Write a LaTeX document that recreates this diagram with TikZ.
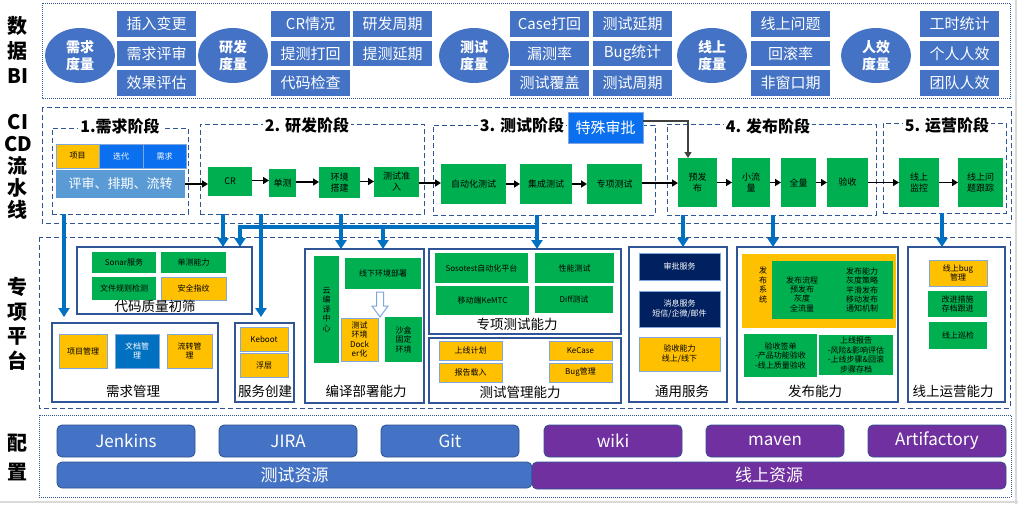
\documentclass[tikz,border=0pt]{standalone}
\usepackage{fontspec}
\setmainfont{Noto Sans CJK SC}
\usetikzlibrary{shapes.geometric,arrows.meta,calc}
\definecolor{biblue}{HTML}{4472C4}
\definecolor{cdash}{HTML}{2F5597}
\definecolor{cbright}{HTML}{0A70F0}
\definecolor{crev}{HTML}{5B9BD5}
\definecolor{cgreen}{HTML}{00B050}
\definecolor{cyellow}{HTML}{FFC000}
\definecolor{cablue}{HTML}{0070C0}
\definecolor{cnavy}{HTML}{002060}
\definecolor{cpanel}{HTML}{2F5597}
\definecolor{cltb}{HTML}{7FA7DC}
\definecolor{cpurple}{HTML}{7030A0}
\definecolor{cfgedge}{HTML}{2F528F}
\newcommand\fsz[2]{\fontsize{#1}{#2}\selectfont}
\newcommand\mybox[7][]{%
 \pgfmathsetmacro\mbw{#5-#3}%
 \pgfmathsetmacro\mbh{#6-#4}%
 \pgfmathsetmacro\mbx{(#3+#5)/2}%
 \pgfmathsetmacro\mby{(#4+#6)/2}%
 \node[box,#1,minimum width=\mbw pt,minimum height=\mbh pt] (#2) at (\mbx,\mby) {#7};}
\begin{document}
\begin{tikzpicture}[x=1pt,y=-1pt,
 box/.style={rectangle,inner sep=0.5pt,outer sep=0pt,align=center},
 bibox/.style={fill=biblue,text=white,font=\fsz{15}{16}},
 biell/.style={ellipse,fill=biblue,text=white,minimum width=70pt,minimum height=55pt,inner sep=0pt,align=center,font=\bfseries\fsz{14}{17}},
 side/.style={align=center,inner sep=0pt},
 dotline/.style={draw=cdash,line width=0.8pt,dash pattern=on 1pt off 1pt},
 dashline/.style={draw=cdash,line width=1pt,dash pattern=on 5pt off 3pt},
 stage/.style={draw=cdash,line width=1pt,dash pattern=on 5pt off 3pt},
 ttl/.style={fill=white,font=\bfseries\fsz{16}{18},inner sep=2pt},
 gbox/.style={fill=cgreen,text=black,font=\fsz{9}{11}},
 pbox/.style={fill=cgreen,text=black,font=\fsz{8}{9.5}},
 ybox/.style={fill=cyellow,draw=cltb,line width=0.8pt,text=black,font=\fsz{8}{9.5}},
 bbox/.style={fill=cbright,draw=cltb,line width=0.8pt,text=white,font=\fsz{8}{9.5}},
 nbox/.style={fill=cnavy,draw=cltb,line width=0.8pt,text=white,font=\fsz{8}{9.5}},
 panel/.style={draw=cpanel,line width=1.2pt},
 plbl/.style={font=\fsz{13.5}{15},inner sep=0pt},
 karrow/.style={draw=black,line width=1.8pt,-{Triangle[width=7pt,length=6pt]}},
 barrow/.style={draw=cablue,line width=4pt,-{Triangle[width=11pt,length=9pt]}},
 cfb/.style={fill=biblue,draw=cfgedge,line width=0.8pt,rounded corners=5pt,text=white,font=\fsz{17}{18}},
 cfp/.style={fill=cpurple,draw=cfgedge,line width=0.8pt,rounded corners=5pt,text=white,font=\fsz{17}{18}}
]
\useasboundingbox (0,0) rectangle (1018,504);
\fill[white] (0,0) rectangle (1018,504);
\draw[gray!30,line width=2pt] (0,502) -- (1018,502);
\draw[gray!30,line width=1.5pt] (1016,0) -- (1016,504);

% ---------- side labels
\node[side,font=\bfseries\fsz{20}{25}] (lbi) at (18,50) {数\\据\\BI};
\node[side,font=\bfseries\fsz{20}{22}] (lci) at (18,167) {CI\\CD\\流\\水\\线};
\node[side,font=\bfseries\fsz{20}{24.5}] (lpt) at (18,324) {专\\项\\平\\台};
\node[side,font=\bfseries\fsz{20}{29}] (lcf) at (18,457) {配\\置};

% ---------- BI
\draw[dotline] (42,3) rectangle (1010,98);
\node[biell] (m1) at (80,55.5) {需求\\度量};
\mybox[bibox]{b11}{117}{11}{196}{37}{插入变更}
\mybox[bibox]{b12}{117}{41}{196}{66}{需求评审}
\mybox[bibox]{b13}{117}{70}{196}{96}{效果评估}
\node[biell] (m2) at (233,55.5) {研发\\度量};
\mybox[bibox]{b21}{271}{11}{350}{37}{CR情况}
\mybox[bibox]{b22}{271}{41}{350}{66}{提测打回}
\mybox[bibox]{b23}{271}{70}{350}{96}{代码检查}
\mybox[bibox]{b24}{353}{11}{432}{37}{研发周期}
\mybox[bibox]{b25}{353}{41}{432}{66}{提测延期}
\node[biell] (m3) at (474,55.5) {测试\\度量};
\mybox[bibox]{b31}{510}{11}{589}{37}{Case打回}
\mybox[bibox]{b32}{510}{41}{589}{66}{漏测率}
\mybox[bibox]{b33}{510}{70}{589}{96}{测试覆盖}
\mybox[bibox]{b34}{593}{11}{672}{37}{测试延期}
\mybox[bibox]{b35}{593}{41}{672}{66}{Bug统计}
\mybox[bibox]{b36}{593}{70}{672}{96}{测试周期}
\node[biell] (m4) at (712,55.5) {线上\\度量};
\mybox[bibox]{b41}{751}{11}{830}{37}{线上问题}
\mybox[bibox]{b42}{751}{41}{830}{66}{回滚率}
\mybox[bibox]{b43}{751}{70}{830}{96}{非窗口期}
\node[biell] (m5) at (876,55.5) {人效\\度量};
\mybox[bibox]{b51}{920}{11}{999}{37}{工时统计}
\mybox[bibox]{b52}{920}{41}{999}{66}{个人人效}
\mybox[bibox]{b53}{920}{70}{999}{96}{团队人效}

% ---------- CI/CD
\draw[dashline] (42,107) rectangle (1011,223);
\mybox[stage]{s1}{52}{128}{188}{214}{}
\mybox[stage]{s2}{200}{124}{424}{214}{}
\mybox[stage]{s3}{433}{125}{655}{215}{}
\mybox[stage]{s4}{667}{124}{876}{215}{}
\mybox[stage]{s5}{883}{123}{1006}{213}{}
\node[ttl] (t1) at (120,126) {1.需求阶段};
\node[ttl] (t2) at (307,125) {2. 研发阶段};
\node[ttl] (t3) at (522,125) {3. 测试阶段};
\node[ttl] (t4) at (768,126) {4. 发布阶段};
\node[ttl] (t5) at (947,125) {5. 运营阶段};

\mybox[ybox]{p1}{56}{144}{99}{168}{项目}
\mybox[bbox]{p2}{99}{144}{143}{168}{迭代}
\mybox[bbox]{p3}{143}{144}{186}{168}{需求}
\mybox[fill=crev,text=white,font=\fsz{13}{14}]{p4}{56}{170}{185}{198}{评审、排期、流转}

\mybox[gbox]{cr}{208}{167}{252}{196}{CR}
\mybox[gbox]{ut}{269}{169}{296}{197}{单测}
\mybox[gbox]{env}{319}{167}{360}{198}{环境\\搭建}
\mybox[gbox]{adm}{374}{167}{419}{197}{测试准\\入}
\mybox[gbox]{auto}{441}{164}{506}{204}{自动化测试}
\mybox[gbox]{integ}{520}{164}{572}{204}{集成测试}
\mybox[gbox]{spec}{587}{164}{642}{204}{专项测试}
\mybox[gbox]{pre}{678}{158}{717}{207}{预发\\布}
\mybox[gbox]{small}{732}{158}{770}{207}{小流\\量}
\mybox[gbox]{full}{781}{158}{816}{207}{全量}
\mybox[gbox]{acc}{827}{158}{868}{207}{验收}
\mybox[gbox]{mon}{899}{158}{939}{207}{线上\\监控}
\mybox[gbox]{trk}{958}{158}{1003}{207}{线上问\\题跟踪}

\mybox[fill=cbright,draw=cltb,line width=1pt,text=white,font=\fsz{15}{16}]{sp}{568}{112}{643}{143}{特殊审批}

\draw[karrow] (p4.east) -- (p4.east -| cr.west);
\draw[karrow] ($(cr.east)+(0,-1)$) -- ($(cr.east -| ut.west)+(0,-1)$);
\draw[karrow] ($(ut.east)+(0,-1)$) -- ($(ut.east -| env.west)+(0,-1)$);
\draw[karrow] ($(env.east)+(0,-1)$) -- ($(env.east -| adm.west)+(0,-1)$);
\draw[karrow] ($(adm.east)+(0,1)$) -- ($(adm.east -| auto.west)+(0,1)$);
\draw[karrow] (auto.east) -- (auto.east -| integ.west);
\draw[karrow] (integ.east) -- (integ.east -| spec.west);
\draw[karrow] ($(spec.east)+(0,-1)$) -- ($(spec.east -| pre.west)+(0,-1)$);
\draw[karrow] (pre.east) -- (pre.east -| small.west);
\draw[karrow] (small.east) -- (small.east -| full.west);
\draw[karrow] (full.east) -- (full.east -| acc.west);
\draw[draw=black,line width=1.2pt,-{Triangle[width=7pt,length=6pt]}] (acc.east) -- (acc.east -| mon.west);
\draw[karrow] (mon.east) -- (mon.east -| trk.west);
\draw[draw=black!75,line width=1.2pt,-{Triangle[width=7pt,length=6pt]}] ($(sp.north east)+(0,9)$) -| ($(pre.north west)+(10,0)$);

% ---------- Platform
\draw[dashline] (39,237) rectangle (1010,408);

\mybox[panel]{cq}{77}{247}{252}{314}{}
\mybox[pbox]{cq1}{92}{252}{156}{273}{Sonar服务}
\mybox[pbox]{cq2}{161}{252}{226}{273}{单测能力}
\mybox[pbox]{cq3}{92}{277}{156}{300}{文件规则检测}
\mybox[ybox]{cq4}{161}{277}{226}{300}{安全指纹}
\node[plbl] (lcq) at (155,306) {代码质量初筛};

\mybox[panel]{req}{52}{323}{218}{402}{}
\mybox[ybox]{rq1}{59}{334}{107}{368}{项目管理}
\mybox[fill=cablue,draw=cltb,line width=0.8pt,text=white,font=\fsz{8}{9.5}]{rq2}{115}{334}{159}{368}{文档管\\理}
\mybox[ybox]{rq3}{167}{334}{212}{368}{流转管\\理}
\node[plbl] (lrq) at (133,391) {需求管理};

\mybox[panel]{svc}{235}{323}{294}{402}{}
\mybox[ybox]{sv1}{240}{327}{288}{351}{Keboot}
\mybox[ybox]{sv2}{240}{353}{288}{377}{浮层}
\node[plbl] (lsv) at (265,391) {服务创建};

\mybox[panel]{bld}{305}{249}{424}{403}{}
\mybox[pbox]{bd1}{314}{256}{339}{363}{云\\编\\译\\中\\心}
\mybox[pbox]{bd2}{345}{258}{421}{289}{线下环境部署}
\mybox[ybox]{bd3}{341}{318}{378}{361}{测试\\环境\\Dock\\er化}
\mybox[pbox]{bd4}{385}{317}{422}{362}{沙盒\\固定\\环境}
\draw[draw=cltb,fill=white,line width=1pt] (376.5,292) -- (383.5,292) -- (383.5,306) -- (388,306) -- (380,317) -- (372,306) -- (376.5,306) -- cycle;
\node[plbl] (lbd) at (366,391) {编译部署能力};

\mybox[panel]{spt}{429}{249}{621}{334}{}
\mybox[pbox]{st1}{435}{253}{528}{283}{Sosotest自动化平台}
\mybox[pbox]{st2}{535}{253}{614}{283}{性能测试}
\mybox[pbox]{st3}{436}{286}{529}{315}{移动端KeMTC}
\mybox[pbox]{st4}{535}{286}{613}{313}{Diff测试}
\node[plbl] (lst) at (517,324) {专项测试能力};

\mybox[panel]{tm}{429}{338}{621}{403}{}
\mybox[ybox]{tm1}{439}{341}{502}{360}{上线计划}
\mybox[ybox]{tm2}{439}{363}{502}{382}{报告载入}
\mybox[ybox]{tm3}{549}{341}{612}{360}{KeCase}
\mybox[ybox]{tm4}{549}{363}{612}{382}{Bug管理}
\node[plbl] (ltm) at (520,392) {测试管理能力};

\mybox[panel]{gen}{629}{247}{727}{402}{}
\mybox[nbox]{gn1}{639}{253}{720}{280}{审批服务}
\mybox[nbox]{gn2}{639}{291}{720}{327}{消息服务\\短信/企微/邮件}
\mybox[ybox]{gn3}{639}{337}{720}{371}{验收能力\\线上/线下}
\node[plbl] (lgn) at (682,391) {通用服务};

\mybox[panel]{rel}{737}{247}{898}{402}{}
\mybox[fill=cyellow]{rl0}{742}{254}{896}{328}{}
\node[inner sep=0pt,align=center,font=\fsz{8}{9.5}] (rl0t) at (763,285) {发\\布\\系\\统};
\mybox[fill=cgreen]{rl1}{772}{261}{893}{319}{}
\node[inner sep=0pt,align=center,font=\fsz{8}{9.3}] (rl1a) at (802,294) {发布流程\\预发布\\灰度\\全流量};
\node[inner sep=0pt,align=center,font=\fsz{8}{9.3}] (rl1b) at (862,290) {发布能力\\灰度策略\\平滑发布\\移动发布\\通知机制};
\mybox[pbox]{rl2}{744}{334}{817}{377}{验收签单\\-产品功能验收\\-线上质量验收}
\mybox[pbox]{rl3}{819}{335}{893}{375}{上线报告\\-风险\&影响评估\\-上线步骤\&回滚\\步骤存档}
\node[plbl] (lrl) at (815,391) {发布能力};

\mybox[panel]{ops}{908}{247}{1005}{402}{}
\mybox[ybox]{op1}{929}{260}{987}{286}{线上bug\\管理}
\mybox[pbox]{op2}{928}{291}{987}{317}{改进措施\\存档跟进}
\mybox[pbox]{op3}{929}{322}{987}{349}{线上巡检}
\node[plbl] (lop) at (953,391) {线上运营能力};

% ---------- blue arrows
\draw[barrow] ($(s1.south west)+(12,0)$) -- ($(req.north west)+(12,-6)$);
\draw[barrow] ($(s2.south west)+(23,0)$) -- ($(cq.north west)+(146,0)$);
\draw[barrow] ($(s2.south west)+(61,0)$) -- ($(svc.north west)+(26,-6)$);
\draw[barrow] ($(s2.south west)+(141,0)$) -- ($(bld.north west)+(36,0)$);
\draw[barrow] ($(s3.south west)+(104,0)$) -- ($(spt.north west)+(108,0)$);
\draw[barrow] ($(s3.south west)+(104,12)$) -| ($(cq.north west)+(163,0)$);
\draw[barrow] ($(bld.north west)+(78,-22)$) -- ($(bld.north west)+(78,0)$);
\draw[barrow] ($(s4.south west)+(16,0)$) -- ($(gen.north west)+(54,0)$);
\draw[barrow] ($(s4.south west)+(106,0)$) -- ($(rel.north west)+(36,0)$);
\draw[barrow] ($(s5.south west)+(59,0)$) -- ($(ops.north west)+(34,0)$);

% ---------- Config
\draw[dotline] (39,415) rectangle (1011,497);
\mybox[cfb]{c1}{57}{425}{195}{457}{Jenkins}
\mybox[cfb]{c2}{219}{425}{357}{457}{JIRA}
\mybox[cfb]{c3}{381}{425}{519}{457}{Git}
\mybox[cfp]{c4}{544}{425}{682}{457}{wiki}
\mybox[cfp]{c5}{706}{425}{844}{457}{maven}
\mybox[cfp]{c6}{868}{425}{1006}{457}{Artifactory}
\mybox[cfb]{c7}{57}{462}{532}{488}{测试资源}
\mybox[cfp]{c8}{532}{462}{1006}{489}{线上资源}
\end{tikzpicture}
\end{document}
